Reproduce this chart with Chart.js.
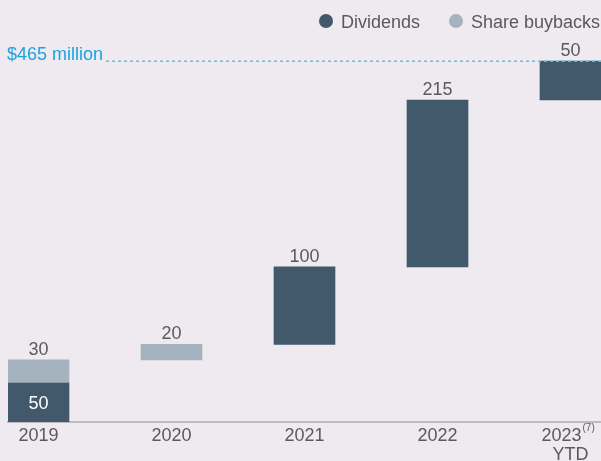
<!DOCTYPE html>
<html>
<head>
<meta charset="utf-8">
<script src="https://cdn.jsdelivr.net/npm/chart.js@4.4.1/dist/chart.umd.min.js"></script>
<style>
    html, body { margin: 0; padding: 0; background: #eeeaef; }
    #wrap { width: 601px; height: 461px; position: relative; }
</style>
</head>
<body>
<div id="wrap"><canvas id="grafico"></canvas></div>
<script>
const anos = ['2019', '2020', '2021', '2022', ['2023\u2003', 'YTD']];
const notas = [null, null, null, null, '(7)'];
const dividendos = [50, null, 100, 215, 50];
const recompras = [30, 20, null, null, null];

const corDiv = '#41596a';
const corRec = '#a4b3bd';
const corTexto = '#5a5a5a';
const corAzul = '#1ca3dd';
const fonte = 'Liberation Sans, Arial, sans-serif';

// barras flutuantes (cascata): cada barra começa onde a anterior terminou
let acum = 0;
const barrasDiv = [];
const barrasRec = [];
for (let i = 0; i < anos.length; i++) {
    if (dividendos[i]) {
        barrasDiv.push({x: i, y: [acum, acum + dividendos[i]], v: dividendos[i]});
        acum += dividendos[i];
    }
    if (recompras[i]) {
        barrasRec.push({x: i, y: [acum, acum + recompras[i]], v: recompras[i]});
        acum += recompras[i];
    }
}
const total = acum;

// rótulos dos valores
const rotulos = {
    id: 'rotulos',
    afterDatasetsDraw(chart) {
        const ctx = chart.ctx;
        ctx.save();
        ctx.font = '18px ' + fonte;
        ctx.textAlign = 'center';
        chart.data.datasets.forEach((ds, d) => {
            const meta = chart.getDatasetMeta(d);
            meta.data.forEach((el, k) => {
                const item = ds.data[k];
                const coberta = d === 0 && recompras[item.x];
                if (coberta) {
                    ctx.fillStyle = '#ffffff';
                    ctx.textBaseline = 'middle';
                    ctx.fillText(item.v, el.x, (el.y + el.base) / 2 + 1);
                } else {
                    ctx.fillStyle = corTexto;
                    ctx.textBaseline = 'alphabetic';
                    ctx.fillText(item.v, el.x, el.y - 5);
                }
            });
        });
        ctx.restore();
    }
};

// linha tracejada do total
const linhaTotal = {
    id: 'linhaTotal',
    afterDatasetsDraw(chart) {
        const ctx = chart.ctx;
        const y = chart.scales.y.getPixelForValue(total);
        ctx.save();
        ctx.font = '18px ' + fonte;
        ctx.fillStyle = corAzul;
        ctx.textBaseline = 'alphabetic';
        ctx.textAlign = 'left';
        const texto = `$${total} million`;
        ctx.fillText(texto, 7, y - 1);
        const w = ctx.measureText(texto).width;
        ctx.strokeStyle = '#5fc0ea';
        ctx.lineWidth = 1.5;
        ctx.setLineDash([3, 3]);
        ctx.beginPath();
        ctx.moveTo(7 + w + 3, y);
        ctx.lineTo(chart.width, y);
        ctx.stroke();
        ctx.restore();
    }
};

// notas em sobrescrito ao lado do ano
const sobrescrito = {
    id: 'sobrescrito',
    afterDraw(chart) {
        const ctx = chart.ctx;
        const sx = chart.scales.x;
        ctx.save();
        notas.forEach((nota, i) => {
            if (!nota) return;
            const rot = Array.isArray(anos[i]) ? anos[i][0] : anos[i];
            ctx.font = '18px ' + fonte;
            const wTotal = ctx.measureText(rot).width;
            const wAno = ctx.measureText(rot.trim()).width;
            const x = sx.getPixelForValue(i) - wTotal / 2 + wAno + 1;
            ctx.font = '10px ' + fonte;
            ctx.fillStyle = corTexto;
            ctx.textAlign = 'left';
            ctx.textBaseline = 'alphabetic';
            ctx.fillText(nota, x, sx.top + 9);
        });
        ctx.restore();
    }
};

// legenda
const legenda = {
    id: 'legenda',
    afterDraw(chart) {
        const ctx = chart.ctx;
        const itens = [[326, corDiv, 'Dividends'], [456, corRec, 'Share buybacks']];
        ctx.save();
        ctx.font = '18px ' + fonte;
        ctx.textBaseline = 'alphabetic';
        ctx.textAlign = 'left';
        for (const [x, cor, nome] of itens) {
            ctx.fillStyle = cor;
            ctx.beginPath();
            ctx.arc(x, 21, 7, 0, Math.PI * 2);
            ctx.fill();
            ctx.fillStyle = corTexto;
            ctx.fillText(nome, x + 15, 27.5);
        }
        ctx.restore();
    }
};

const passo = 133;
const esquerda = 8;
const centro0 = 38.5;
const xMin = -(centro0 - esquerda) / passo;
const xMax = xMin + (601 - esquerda) / passo;

const grafico = new Chart(document.getElementById('grafico'), {
    type: 'bar',
    data: {
        datasets: [{
            label: 'Dividends',
            data: barrasDiv,
            backgroundColor: corDiv,
            barThickness: 61,
            grouped: false
        }, {
            label: 'Share buybacks',
            data: barrasRec,
            backgroundColor: corRec,
            barThickness: 61,
            grouped: false
        }]
    },
    options: {
        responsive: true,
        maintainAspectRatio: false,
        animation: false,
        layout: {padding: {top: 34, left: esquerda, right: 0, bottom: 0}},
        plugins: {
            legend: {display: false},
            tooltip: {enabled: false}
        },
        scales: {
            x: {
                type: 'linear',
                offset: false,
                min: xMin,
                max: xMax,
                afterBuildTicks: (scale) => {
                    scale.ticks = anos.map((_, i) => ({value: i}));
                },
                afterFit: (scale) => {
                    scale.height = 39;
                    scale.paddingLeft = 0;
                    scale.paddingRight = 0;
                },
                grid: {display: false, drawTicks: false, offset: false},
                border: {display: true, color: '#bdbbc0', width: 2},
                ticks: {
                    autoSkip: false,
                    maxRotation: 0,
                    padding: 5,
                    color: corTexto,
                    font: {size: 18, family: fonte, lineHeight: 1.05},
                    callback: (v) => anos[v]
                }
            },
            y: {
                display: false,
                min: 0,
                max: 500
            }
        }
    },
    plugins: [rotulos, linhaTotal, sobrescrito, legenda]
});
</script>
</body>
</html>
